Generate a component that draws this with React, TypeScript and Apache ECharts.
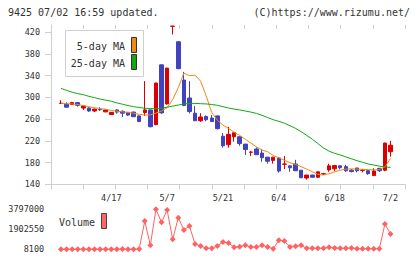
import React, { useEffect, useRef } from "react";
import * as echarts from "echarts";

// Daily prices (open / close / low / high), oldest first
const opens = [
  289, 287.5, 287, 290.5, 280.5, 280.5, 275, 278, 273.5, 268.5,
  277, 274.5, 272.5, 273, 266, 272, 277, 250, 360, 288,
  431, 402.5, 332, 299, 271, 257, 265, 262, 266, 228.5,
  213, 227.5, 227.5, 214, 199, 205, 197.5, 190, 184, 188.5,
  177, 174, 177.5, 166, 151.5, 157, 153, 159, 166.5, 168.5,
  174, 172.5, 166, 170, 165.6, 165, 156, 169.5, 166, 200,
];
const closes = [
  289.3, 282, 290.5, 285.5, 284, 275, 278.5, 277.3, 277, 272.5,
  273, 271, 267.5, 264.5, 255.5, 277, 246, 326.5, 271.5, 354,
  431.3, 353, 285, 274, 257, 264, 259, 255.5, 242.5, 211,
  232, 235, 215, 204, 199.4, 194.5, 189, 182.5, 190, 164.5,
  177.4, 170.5, 165, 152, 157, 153, 163, 159.4, 174, 174.5,
  170.5, 165, 163.5, 165, 166, 159.5, 164.5, 165, 216, 212,
];
const lows = [
  288.5, 281.5, 286, 283, 277, 273.5, 273, 275, 272.5, 268,
  270, 264, 266, 264, 255, 266, 245, 248.5, 270, 287,
  416, 352, 284, 270.5, 256.5, 255, 256, 255, 241, 207.5,
  207.5, 218.5, 211, 194, 192, 194, 181.5, 178, 178, 161.5,
  168, 163, 164.5, 151.5, 148.5, 152.5, 152.5, 157.5, 163, 164,
  167.5, 163, 162, 162, 162, 157.5, 155.5, 162.5, 164, 191,
];
const highs = [
  295, 291, 292, 291, 284.5, 281.5, 279.5, 282, 277.5, 273,
  278, 276, 273, 274, 267, 330, 277.5, 327, 360.5, 354.5,
  431.5, 404, 347, 330, 284, 271, 267, 267.5, 266.5, 234.5,
  246, 235.5, 228, 214.5, 201.5, 208, 205, 190.5, 190.5, 189,
  192, 174.5, 185, 166.5, 157.5, 157.5, 163.5, 161, 178, 175,
  175, 176, 168, 170.5, 168, 167, 169.5, 170, 216.5, 220,
];

// Moving averages
const ma5 = [
  289, 288.5, 288, 287, 285, 283, 281, 279.5, 278, 276,
  274.5, 273.5, 272.5, 271, 269, 267.5, 268, 271, 275, 281,
  296, 318, 345, 340, 341, 330, 303, 272, 258, 249,
  243, 236, 230, 223, 216, 209, 203, 200, 193, 189,
  184, 180, 176.5, 172.5, 168, 163, 158.5, 157, 159.5, 163,
  166, 168, 168.5, 168, 167.5, 167, 166.5, 167, 172, 188,
];
const ma25 = [
  316.6, 313, 309.5, 307, 305, 302, 299.5, 297, 295, 293,
  290, 287.5, 285, 283, 281.5, 280, 279.5, 279.5, 280, 282,
  284, 286, 288, 289, 289, 288.5, 288, 287, 285.5, 283,
  280.5, 278.5, 277, 275, 273, 270.5, 267, 263, 259, 256,
  252.5, 248, 243, 237, 230, 223, 215, 207, 201, 197,
  194, 190.5, 187, 183.5, 180.5, 177.5, 175.5, 173.5, 172, 171,
];

// Daily volume
const volumes = [
  14800, 8100, 12500, 9600, 22300, 11200, 16900, 10400, 13800, 9100,
  18200, 25600, 12300, 20700, 34500, 2684000, 387000, 3797000, 2566000, 3734000,
  955000, 3008000, 1839000, 2218000, 513000, 324000, 103000, 103000, 324000, 703000,
  608000, 198000, 261000, 387000, 229000, 229000, 387000, 229000, 71000, 861000,
  798000, 229000, 292000, 387000, 103000, 103000, 103000, 103000, 198000, 134000,
  103000, 103000, 134000, 71000, 71000, 71000, 71000, 71000, 2408000, 1461000,
];

const priceTicks = [140, 180, 220, 260, 300, 340, 380, 420];
const volumeTicks = [8100, 1902550, 3797000];
const dateLabelIndex = [9, 19, 29, 39, 49, 59];
const dateLabelText = ["4/17", "5/7", "5/21", "6/4", "6/18", "7/2"];

const UP = "#d80000";
const DOWN = "#4242c0";
const MA5_COLOR = "#f08a10";
const MA25_COLOR = "#12a812";
const VOL_COLOR = "#ff6262";
const AXIS = "#cfcfcf";
const TEXT = "#333333";
const MONO = "'DejaVu Sans Mono', 'Liberation Mono', monospace";

const PRICE_MIN = 140;
const PRICE_MAX = 433.4;

export default function App() {
  const ref = useRef<HTMLDivElement>(null);

  useEffect(() => {
    document.body.style.margin = "0";
    if (!ref.current) return;
    const chart = echarts.init(ref.current, undefined, { renderer: "svg" });

    const cats = opens.map((_, i) => String(i));
    const candles = opens.map((o, i) => [o, closes[i], lows[i], highs[i]]);

    const frame = { left: 51, top: 25, width: 354, height: 159.3 };
    const plot = { left: 58.2, top: 25, width: 335.1, height: 159.3 };
    const vol = { left: 58.2, top: 209.3, width: 335.1, height: 40 };

    const option: any = {
      animation: false,
      backgroundColor: "#ffffff",
      grid: [
        { ...frame, containLabel: false },
        { ...plot, containLabel: false },
        { ...vol, containLabel: false },
      ],
      xAxis: [
        {
          gridIndex: 0,
          type: "value",
          min: 0,
          max: 11,
          interval: 1,
          axisLine: { show: true, lineStyle: { color: AXIS, width: 1 } },
          axisTick: { show: true, length: 5, lineStyle: { color: AXIS } },
          axisLabel: { show: false },
          splitLine: { show: false },
        },
        {
          gridIndex: 0,
          type: "value",
          min: 0,
          max: 11,
          interval: 1,
          axisLine: { show: false },
          axisTick: { show: true, inside: true, length: 4, lineStyle: { color: AXIS } },
          axisLabel: { show: false },
          splitLine: { show: false },
        },
        {
          gridIndex: 1,
          type: "category",
          data: cats,
          boundaryGap: true,
          axisLine: { show: false },
          axisTick: { show: false },
          splitLine: { show: false },
          axisLabel: {
            show: true,
            interval: (idx: number) => dateLabelIndex.includes(idx),
            formatter: (_v: string, idx: number) => {
              const k = dateLabelIndex.indexOf(idx);
              return k >= 0 ? dateLabelText[k] : "";
            },
            margin: 9,
            color: TEXT,
            fontFamily: MONO,
            fontSize: 8.5,
          },
        },
        {
          gridIndex: 2,
          type: "category",
          data: cats,
          boundaryGap: true,
          show: false,
        },
      ],
      yAxis: [
        {
          gridIndex: 0,
          type: "value",
          min: PRICE_MIN,
          max: PRICE_MAX,
          axisLine: { show: true, lineStyle: { color: AXIS, width: 1 } },
          axisTick: { show: true, length: 6, customValues: priceTicks, lineStyle: { color: AXIS } },
          axisLabel: {
            show: true,
            customValues: priceTicks,
            formatter: (v: number) => String(v),
            margin: 11,
            color: TEXT,
            fontFamily: MONO,
            fontSize: 8.5,
          },
          splitLine: { show: false },
        },
        {
          gridIndex: 0,
          type: "value",
          min: PRICE_MIN,
          max: PRICE_MAX,
          axisLine: { show: false },
          axisTick: { show: true, inside: true, length: 3, customValues: priceTicks, lineStyle: { color: AXIS } },
          axisLabel: { show: false },
          splitLine: { show: false },
        },
        {
          gridIndex: 1,
          type: "value",
          min: PRICE_MIN,
          max: PRICE_MAX,
          show: false,
          splitLine: { show: false },
        },
        {
          gridIndex: 2,
          type: "value",
          min: volumeTicks[0],
          max: volumeTicks[2],
          axisLine: { show: false },
          axisTick: { show: false },
          splitLine: { show: false },
          axisLabel: {
            show: true,
            customValues: volumeTicks,
            formatter: (v: number) => String(Math.round(v)),
            margin: 14,
            color: TEXT,
            fontFamily: MONO,
            fontSize: 8.5,
          },
        },
      ],
      series: [
        {
          name: "price",
          type: "candlestick",
          xAxisIndex: 2,
          yAxisIndex: 2,
          data: candles,
          barWidth: 4,
          clip: false,
          itemStyle: {
            color: UP,
            color0: DOWN,
            borderColor: UP,
            borderColor0: DOWN,
            borderWidth: 1,
          },
        },
        {
          name: "5-day MA",
          type: "line",
          xAxisIndex: 2,
          yAxisIndex: 2,
          data: ma5,
          showSymbol: false,
          symbol: "none",
          lineStyle: { color: MA5_COLOR, width: 1 },
        },
        {
          name: "25-day MA",
          type: "line",
          xAxisIndex: 2,
          yAxisIndex: 2,
          data: ma25,
          showSymbol: false,
          symbol: "none",
          lineStyle: { color: MA25_COLOR, width: 1 },
        },
        {
          name: "Volume",
          type: "line",
          xAxisIndex: 3,
          yAxisIndex: 3,
          data: volumes,
          symbol: "diamond",
          symbolSize: 6,
          showSymbol: true,
          showAllSymbol: true,
          clip: false,
          itemStyle: { color: VOL_COLOR },
          lineStyle: { color: VOL_COLOR, width: 1 },
        },
      ],
      graphic: [
        {
          type: "text",
          left: 8,
          top: 7,
          style: { text: "9425 07/02 16:59 updated.", fill: TEXT, font: `10px ${MONO}` },
        },
        {
          type: "text",
          right: 10,
          top: 7,
          style: { text: "(C)https://www.rizumu.net/", fill: TEXT, font: `10px ${MONO}` },
        },
        // moving-average legend
        {
          type: "rect",
          shape: { x: 65.5, y: 30.5, width: 78, height: 46 },
          style: { fill: "#ffffff", stroke: AXIS, lineWidth: 1 },
          z: 10,
        },
        {
          type: "text",
          x: 125,
          y: 46,
          z: 11,
          style: { text: "5-day MA", fill: TEXT, font: `10px ${MONO}`, align: "right", verticalAlign: "middle" },
        },
        {
          type: "text",
          x: 125,
          y: 63,
          z: 11,
          style: { text: "25-day MA", fill: TEXT, font: `10px ${MONO}`, align: "right", verticalAlign: "middle" },
        },
        {
          type: "rect",
          z: 11,
          shape: { x: 131.5, y: 37.5, width: 5, height: 15 },
          style: { fill: MA5_COLOR, stroke: "#333333", lineWidth: 1 },
        },
        {
          type: "rect",
          z: 11,
          shape: { x: 131.5, y: 54.5, width: 5, height: 15 },
          style: { fill: MA25_COLOR, stroke: "#333333", lineWidth: 1 },
        },
        // volume legend
        {
          type: "text",
          x: 59,
          y: 222,
          z: 11,
          style: { text: "Volume", fill: TEXT, font: `10px ${MONO}`, verticalAlign: "middle" },
        },
        {
          type: "rect",
          z: 11,
          shape: { x: 101.5, y: 213.5, width: 5, height: 15 },
          style: { fill: "#ff6666", stroke: "#444444", lineWidth: 1 },
        },
      ],
    };

    chart.setOption(option);
    return () => chart.dispose();
  }, []);

  return (
    <div
      ref={ref}
      style={{ position: "fixed", left: 0, top: 0, width: 420, height: 259 }}
    />
  );
}
